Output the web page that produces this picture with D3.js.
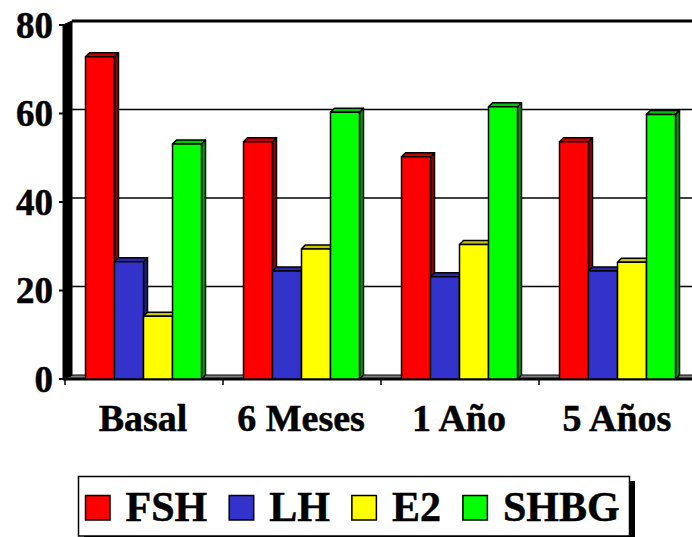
<!DOCTYPE html>
<html>
<head>
<meta charset="utf-8">
<script src="https://cdn.jsdelivr.net/npm/d3@7"></script>
<style>
  html, body { margin: 0; padding: 0; background: #fff; }
  svg { display: block; }
  text { font-family: "Liberation Serif", "Times New Roman", serif; font-weight: bold; fill: #000;
         stroke: #000; stroke-width: 0.5px; }
</style>
</head>
<body>
<svg id="chart" width="692" height="537"></svg>
<script>
// Hormone levels by follow-up time
const categories = ["Basal", "6 Meses", "1 Año", "5 Años"];
const seriesNames = ["FSH", "LH", "E2", "SHBG"];
const fsh  = [72.8, 53.6, 50.2, 53.6];
const lh   = [26.5, 24.4, 23.1, 24.4];
const e2   = [14.2, 29.4, 30.4, 26.4];
const shbg = [53.1, 60.3, 61.5, 59.8];
const yTicks = [0, 20, 40, 60, 80];
const colors = ["#ff0000", "#3333cc", "#ffff00", "#00ff00"];

const seriesValues = [fsh, lh, e2, shbg];
const W = 692, H = 537;
const svg = d3.select("#chart");

// Front plane of the 3D box and its depth offset
const x0 = 65, band = 158;
const depthX = 8, depthY = 4;     // wall / floor depth
const barDX = 4, barDY = 4;       // bar depth

const x = d3.scaleBand().domain(categories).range([x0, x0 + band * categories.length]).padding(0);
const xs = d3.scaleBand().domain(seriesNames).range([20.5, 136.5]).padding(0);
const y = d3.scaleLinear().domain([0, 80]).range([379, 25]);

// Back wall gridlines
const back = svg.append("g");
back.selectAll("line.grid")
  .data(yTicks.filter(d => d > 0))
  .join("line")
  .attr("x1", x0 + depthX - 1).attr("x2", W)
  .attr("y1", d => y(d) - depthY).attr("y2", d => y(d) - depthY)
  .attr("stroke", "#000")
  .attr("stroke-width", d => d === 80 ? 3 : 1.5);

// Floor strip
back.append("path")
  .attr("d", `M${x0 - 2},${y(0)} L${x0 + depthX},${y(0) - depthY} L${W + 5},${y(0) - depthY} L${W + 5},${y(0)} Z`)
  .attr("fill", "#7f7f7f").attr("stroke", "#000").attr("stroke-width", 1.2);
back.append("line")
  .attr("x1", x0 - 2).attr("x2", W).attr("y1", y(0)).attr("y2", y(0))
  .attr("stroke", "#000").attr("stroke-width", 3);

// Left side wall
back.append("path")
  .attr("d", `M${x0 - 2},${y(80)} L${x0 + depthX - 1},${y(80) - depthY} L${x0 + depthX - 1},${y(0) - depthY} L${x0 - 2},${y(0)} Z`)
  .attr("fill", "#000").attr("stroke", "#000").attr("stroke-width", 1);

// Y axis ticks and labels
const yAxis = svg.append("g");
yAxis.selectAll("line")
  .data(yTicks).join("line")
  .attr("x1", x0 - 6).attr("x2", x0 - 1)
  .attr("y1", d => y(d)).attr("y2", d => y(d))
  .attr("stroke", "#000").attr("stroke-width", 2);
yAxis.selectAll("text")
  .data(yTicks).join("text")
  .attr("x", 53).attr("y", d => y(d))
  .attr("dy", "0.34em")
  .attr("text-anchor", "end")
  .style("font-size", "37px")
  .text(d => d);

// X axis ticks
svg.append("g").selectAll("line")
  .data(d3.range(categories.length + 1)).join("line")
  .attr("x1", i => x0 + i * band).attr("x2", i => x0 + i * band)
  .attr("y1", y(0)).attr("y2", y(0) + 6)
  .attr("stroke", "#000").attr("stroke-width", 1.5);

// Bars: side, top, then front face, drawn left to right
const bars = svg.append("g");
categories.forEach((cat, ci) => {
  seriesNames.forEach((s, si) => {
    const v = seriesValues[si][ci];
    const bx = x(cat) + xs(s);
    const bw = xs.bandwidth();
    const top = y(v), base = y(0);
    const c = d3.color(colors[si]);
    const g = bars.append("g").attr("stroke", "#000").attr("stroke-width", 1.5).attr("stroke-linejoin", "round");
    g.append("path")
      .attr("d", `M${bx + bw},${top} L${bx + bw + barDX},${top - barDY} L${bx + bw + barDX},${base - barDY} L${bx + bw},${base} Z`)
      .attr("fill", c.darker(1.4));
    g.append("path")
      .attr("d", `M${bx},${top} L${bx + barDX},${top - barDY} L${bx + bw + barDX},${top - barDY} L${bx + bw},${top} Z`)
      .attr("fill", c.darker(0.7));
    g.append("rect")
      .attr("x", bx).attr("y", top).attr("width", bw).attr("height", base - top)
      .attr("fill", colors[si]);
  });
});

// Category labels
svg.append("g").selectAll("text")
  .data(categories).join("text")
  .attr("x", d => x(d) + band / 2 - 1)
  .attr("y", 431)
  .attr("text-anchor", "middle")
  .style("font-size", "38px")
  .text(d => d);

// Legend box with drop shadow on the right
const lg = svg.append("g");
lg.append("rect").attr("x", 84).attr("y", 481).attr("width", 551).attr("height", 62).attr("fill", "#000");
lg.append("rect").attr("x", 78.5).attr("y", 476.5).attr("width", 551).attr("height", 59.5)
  .attr("fill", "#fff").attr("stroke", "#000").attr("stroke-width", 1.5);

let lx = 85.5;
seriesNames.forEach((s, i) => {
  lg.append("rect").attr("x", lx).attr("y", 495.5).attr("width", 24.5).attr("height", 24.5)
    .attr("fill", colors[i]).attr("stroke", "#000").attr("stroke-width", 1.5);
  const t = lg.append("text").attr("x", lx + 40).attr("y", 521)
    .style("font-size", "42px").text(s);
  lx = lx + 40 + t.node().getComputedTextLength() + 22;
});
</script>
</body>
</html>
